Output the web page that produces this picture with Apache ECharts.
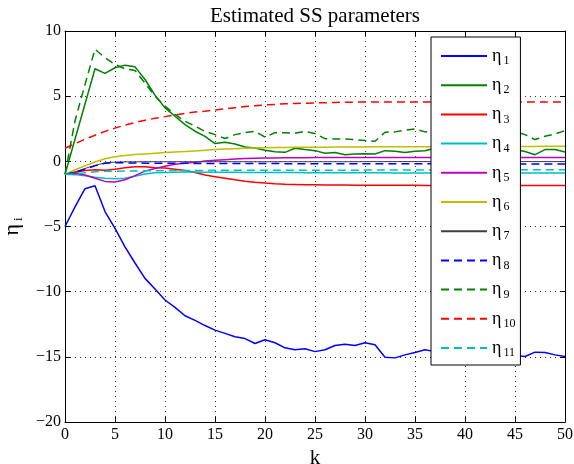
<!DOCTYPE html>
<html>
<head>
<meta charset="utf-8">
<script src="https://cdn.jsdelivr.net/npm/echarts@6/dist/echarts.min.js"></script>
<style>html,body{margin:0;padding:0;background:#fff}#c{width:574px;height:464px}</style>
</head>
<body>
<div id="c"></div>
<script>
const kValues = [0,1,2,3,4,5,6,7,8,9,10,11,12,13,14,15,16,17,18,19,20,21,22,23,24,25,26,27,28,29,30,31,32,33,34,35,36,37,38,39,40,41,42,43,44,45,46,47,48,49,50];
const xTicks = [0,5,10,15,20,25,30,35,40,45,50];
const yTicks = [-20,-15,-10,-5,0,5,10];
const seriesNames = ['1','2','3','4','5','6','7','8','9','10','11'];

const eta1 = [-5,-3.5,-2.1,-1.87,-3.85,-5.15,-6.56,-7.8,-8.98,-9.8,
  -10.64,-11.2,-11.85,-12.2,-12.6,-12.95,-13.2,-13.46,-13.6,-13.98,
  -13.69,-13.92,-14.31,-14.46,-14.38,-14.6,-14.46,-14.13,-14.03,-14.13,
  -13.92,-14.08,-15.03,-15.08,-14.85,-14.67,-14.46,-14.6,-14.5,-14.7,
  -14.6,-14.8,-14.7,-14.6,-14.8,-14.9,-14.97,-14.64,-14.67,-14.85,-14.97];
const eta2 = [-1,1.7,4.4,7.1,6.75,7.18,7.38,7.25,6.28,5.08,
  4.1,3.46,2.82,2.31,1.92,1.36,1.46,1.33,1.1,1.03,
  0.85,0.74,0.69,1.0,0.9,0.82,0.62,0.67,0.51,0.56,
  0.59,0.56,0.82,0.77,0.67,0.77,0.82,1.0,0.8,0.7,
  0.9,0.8,0.7,0.85,0.8,0.9,0.75,0.51,0.9,0.9,0.72];
const eta3 = [-1,-0.85,-0.7,-0.64,-0.69,-0.6,-0.5,-0.42,-0.42,-0.5,
  -0.52,-0.6,-0.7,-0.85,-1.05,-1.18,-1.3,-1.42,-1.52,-1.6,
  -1.67,-1.72,-1.75,-1.77,-1.79,-1.8,-1.81,-1.82,-1.82,-1.83,
  -1.83,-1.83,-1.84,-1.84,-1.84,-1.84,-1.85,-1.85,-1.85,-1.85,
  -1.85,-1.85,-1.85,-1.86,-1.86,-1.86,-1.86,-1.86,-1.86,-1.86,-1.86];
const eta4 = [-1,-1.02,-1.1,-1.22,-1.3,-1.33,-1.3,-1.15,-0.98,-0.88,
  -0.85,-0.83,-0.82,-0.82,-0.83,-0.83,-0.84,-0.84,-0.85,-0.85,
  -0.85,-0.86,-0.86,-0.86,-0.87,-0.87,-0.87,-0.87,-0.88,-0.88,
  -0.88,-0.88,-0.88,-0.89,-0.89,-0.89,-0.89,-0.89,-0.89,-0.9,
  -0.9,-0.9,-0.9,-0.9,-0.9,-0.9,-0.9,-0.9,-0.9,-0.9,-0.9];
const eta5 = [-1,-0.92,-1.05,-1.3,-1.54,-1.59,-1.41,-1.1,-0.75,-0.55,
  -0.38,-0.22,-0.15,-0.08,0.02,0.08,0.13,0.17,0.21,0.23,
  0.25,0.26,0.27,0.28,0.28,0.29,0.29,0.29,0.3,0.3,
  0.3,0.3,0.3,0.3,0.3,0.3,0.3,0.3,0.3,0.3,
  0.3,0.3,0.3,0.3,0.3,0.3,0.3,0.3,0.3,0.3,0.3];
const eta6 = [-1,-0.65,-0.35,-0.05,0.2,0.36,0.45,0.52,0.57,0.62,
  0.67,0.71,0.75,0.8,0.85,0.9,0.94,0.97,1.0,1.02,
  1.04,1.06,1.07,1.08,1.08,1.09,1.09,1.1,1.1,1.1,
  1.1,1.11,1.11,1.11,1.12,1.12,1.12,1.12,1.13,1.13,
  1.13,1.13,1.13,1.14,1.14,1.14,1.14,1.14,1.15,1.15,1.15];
const eta7 = [-1,-0.8,-0.55,-0.3,-0.12,-0.06,-0.04,-0.04,-0.03,-0.03,
  -0.03,-0.03,-0.03,-0.03,-0.03,-0.03,-0.03,-0.03,-0.03,-0.03,
  -0.03,-0.03,-0.03,-0.03,-0.03,-0.03,-0.03,-0.03,-0.03,-0.03,
  -0.02,-0.02,-0.02,-0.02,-0.02,-0.02,-0.02,-0.02,-0.02,-0.02,
  -0.02,-0.02,-0.02,-0.02,-0.02,-0.02,-0.02,-0.02,-0.02,-0.02,-0.02];
const eta8 = [-1,-0.85,-0.6,-0.35,-0.15,-0.1,-0.12,-0.13,-0.14,-0.15,
  -0.15,-0.15,-0.15,-0.16,-0.16,-0.16,-0.16,-0.17,-0.17,-0.17,
  -0.17,-0.17,-0.18,-0.18,-0.18,-0.18,-0.18,-0.18,-0.19,-0.19,
  -0.19,-0.19,-0.19,-0.19,-0.19,-0.19,-0.19,-0.19,-0.19,-0.19,
  -0.2,-0.2,-0.2,-0.2,-0.2,-0.2,-0.2,-0.2,-0.2,-0.2,-0.2];
const eta9 = [-1,3.1,5.9,8.6,7.95,7.44,7.1,6.97,6.0,5.0,
  4.23,3.6,3.08,2.7,2.3,2.05,1.75,2.05,2.2,2.3,
  1.85,2.2,2.2,2.15,2.3,2.13,1.74,1.72,1.72,1.67,
  1.59,1.54,2.23,2.26,2.38,2.49,2.26,2.3,2.2,2.4,
  2.1,2.3,2.0,2.2,2.4,2.3,2.05,1.67,1.92,2.1,2.36];
const eta10 = [1.0,1.35,1.7,2.0,2.3,2.55,2.78,2.98,3.15,3.3,
  3.43,3.56,3.68,3.78,3.85,3.93,4.03,4.12,4.2,4.27,
  4.33,4.37,4.41,4.44,4.46,4.48,4.5,4.52,4.53,4.54,
  4.55,4.56,4.56,4.56,4.56,4.56,4.56,4.56,4.56,4.55,
  4.55,4.55,4.55,4.55,4.55,4.55,4.55,4.55,4.55,4.55,4.55];
const eta11 = [-1,-0.97,-0.88,-0.8,-0.77,-0.76,-0.75,-0.74,-0.73,-0.72,
  -0.71,-0.71,-0.7,-0.7,-0.7,-0.69,-0.69,-0.69,-0.69,-0.68,
  -0.68,-0.68,-0.68,-0.68,-0.68,-0.68,-0.68,-0.68,-0.68,-0.68,
  -0.67,-0.67,-0.67,-0.67,-0.67,-0.67,-0.67,-0.67,-0.67,-0.67,
  -0.66,-0.66,-0.66,-0.66,-0.66,-0.66,-0.65,-0.65,-0.65,-0.65,-0.65];

const allEta = [eta1,eta2,eta3,eta4,eta5,eta6,eta7,eta8,eta9,eta10,eta11];
const colors = ['#0000ff','#008000','#ff0000','#00bfbf','#bf00bf','#bfbf00','#404040','#0000ff','#008000','#ff0000','#00bfbf'];
const dashed = [false,false,false,false,false,false,false,true,true,true,true];
const widths = [1.5,1.5,1.5,1.5,1.5,1.5,1,1.5,1.5,1.5,1.5];

const FONT = 'Liberation Serif';
const minus = v => String(v).replace('-', '\u2212');

const series = allEta.map((arr, i) => ({
  name: 'η' + seriesNames[i],
  type: 'line',
  showSymbol: false,
  symbol: 'none',
  xAxisIndex: 0, yAxisIndex: 0,
  data: kValues.map((k, j) => [k, arr[j]]),
  lineStyle: { color: colors[i], width: widths[i], type: dashed[i] ? [8, 5] : 'solid' },
  itemStyle: { color: colors[i] },
  emphasis: { disabled: true }
}));

const chart = echarts.init(document.getElementById('c'), null, { renderer: 'canvas' });
const axisCommon = {
  type: 'value',
  axisLine: { show: true, onZero: false, lineStyle: { color: '#000', width: 1 } },
  axisTick: { show: true, inside: true, length: 5, lineStyle: { color: '#000', width: 1 } },
  splitLine: { show: false }
};
chart.setOption({
  animation: false,
  backgroundColor: '#fff',
  title: {
    text: 'Estimated SS parameters',
    left: 310, top: 1, textAlign: 'center',
    textStyle: { fontFamily: FONT, fontSize: 21, fontWeight: 'normal', color: '#000' }
  },
  grid: { left: 65, right: 9, top: 31, bottom: 42, containLabel: false, outerBoundsMode: 'none' },
  xAxis: [
    Object.assign({}, axisCommon, {
      position: 'bottom', min: xTicks[0], max: xTicks[xTicks.length - 1], interval: 5,
      name: 'k', nameLocation: 'middle', nameGap: 22,
      nameTextStyle: { fontFamily: FONT, fontSize: 21, color: '#000' },
      axisLabel: { fontFamily: FONT, fontSize: 16, color: '#000', margin: 5, formatter: minus },
      splitLine: { show: true, lineStyle: { color: '#333', width: 1, type: [1, 4] } }
    }),
    Object.assign({}, axisCommon, {
      position: 'top', min: xTicks[0], max: xTicks[xTicks.length - 1], interval: 5,
      axisLabel: { show: false }
    })
  ],
  yAxis: [
    Object.assign({}, axisCommon, {
      position: 'left', min: yTicks[0], max: yTicks[yTicks.length - 1], interval: 5,
      name: '{e|η}{s|i}', nameLocation: 'middle', nameGap: 37, nameRotate: 90,
      nameTextStyle: {
        color: '#000',
        rich: {
          e: { fontFamily: FONT, fontSize: 22, color: '#000', lineHeight: 24 },
          s: { fontFamily: FONT, fontSize: 13, color: '#000', lineHeight: 24, padding: [12, 0, 0, 3] }
        }
      },
      axisLabel: { fontFamily: FONT, fontSize: 16, color: '#000', margin: 4, formatter: minus },
      splitLine: { show: true, lineStyle: { color: '#333', width: 1, type: [1, 4] } }
    }),
    Object.assign({}, axisCommon, {
      position: 'right', min: yTicks[0], max: yTicks[yTicks.length - 1], interval: 5,
      axisLabel: { show: false }
    })
  ],
  legend: {
    orient: 'vertical',
    left: 431, top: 37,
    z: 50,
    padding: [8, 5, 6, 9],
    itemGap: 7.2,
    itemWidth: 46, itemHeight: 14,
    backgroundColor: '#fff',
    borderColor: '#000', borderWidth: 1,
    borderRadius: 0,
    selectedMode: false,
    itemStyle: { opacity: 0 },
    data: seriesNames.map(n => 'η' + n),
    formatter: name => '{e|η}{s|' + name.slice(1) + '}',
    textStyle: {
      color: '#000',
      rich: {
        e: { fontFamily: FONT, fontSize: 18, color: '#000', lineHeight: 20, padding: [0, 2, 0, 0] },
        s: { fontFamily: FONT, fontSize: 12, color: '#000', lineHeight: 20, padding: [10, 0, 0, 0] }
      }
    }
  },
  series: series
});
</script>
</body>
</html>
